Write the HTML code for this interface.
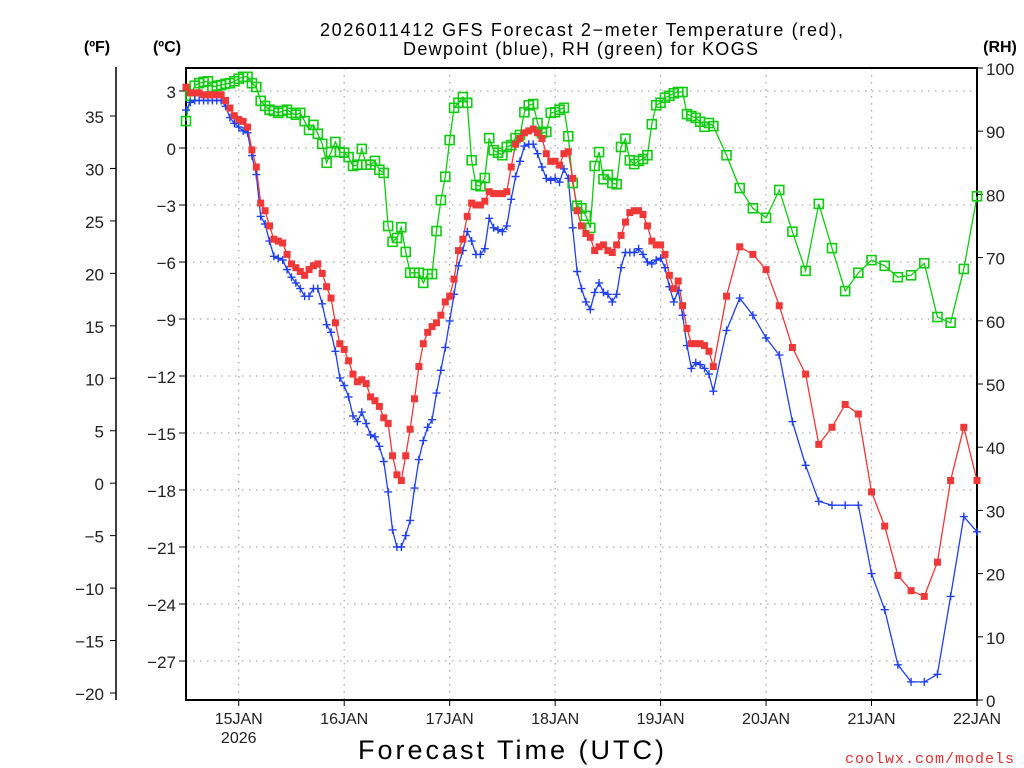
<!DOCTYPE html>
<html><head><meta charset="utf-8">
<style>
html,body{margin:0;padding:0;background:#fff;width:1024px;height:768px;overflow:hidden}
svg{display:block;font-family:"Liberation Sans",sans-serif}
</style></head>
<body>
<svg id="chart" width="1024" height="768" viewBox="0 0 1024 768">
<g>
<text x="320" y="36" font-size="18" fill="#000" textLength="523" lengthAdjust="spacing">2026011412 GFS Forecast 2−meter Temperature (red),</text>
<text x="403" y="55" font-size="18" fill="#000" textLength="355" lengthAdjust="spacing">Dewpoint (blue), RH (green) for KOGS</text>
</g>
<text x="97" y="52" text-anchor="middle" font-size="16" font-weight="bold">(ºF)</text>
<text x="167" y="52" text-anchor="middle" font-size="16" font-weight="bold">(ºC)</text>
<text x="1000" y="52" text-anchor="middle" font-size="16" font-weight="bold">(RH)</text>
<text x="358" y="759" font-size="27" textLength="306" lengthAdjust="spacing">Forecast Time (UTC)</text>
<text x="1015" y="763" text-anchor="end" font-size="15" fill="#e03030" letter-spacing="1" font-family="Liberation Mono, monospace">coolwx.com/models</text>
<g id="grid"></g>
<g id="axes"></g>
<g id="series"></g>
</svg>
<script>
// hours: hourly 0..120 then 3-hourly to 180
const hours = [];
for (let h = 0; h <= 120; h++) hours.push(h);
for (let h = 123; h <= 180; h += 3) hours.push(h);

const tempC = [3.2,2.9,2.9,2.9,2.8,2.8,2.8,2.8,2.8,2.5,2.1,1.7,1.5,1.4,1.1,-0.1,-1.0,-2.9,-3.3,-4.1,-4.8,-4.9,-5.0,-5.6,-6.1,-6.3,-6.5,-6.7,-6.4,-6.2,-6.1,-6.6,-7.3,-7.9,-9.2,-10.3,-10.6,-11.2,-11.9,-12.3,-12.2,-12.4,-13.1,-13.3,-13.6,-14.2,-14.5,-16.2,-17.2,-17.5,-16.2,-14.8,-13.2,-11.5,-10.3,-9.7,-9.4,-9.2,-8.8,-8.1,-7.8,-6.9,-5.4,-4.8,-3.6,-2.9,-3.0,-3.0,-2.8,-2.3,-2.4,-2.4,-2.4,-2.3,-1.0,0.2,0.5,0.8,0.9,1.0,0.8,0.5,-0.3,-0.7,-0.7,-0.9,-0.3,-0.2,-1.6,-3.3,-4.1,-4.5,-4.7,-5.4,-5.2,-5.1,-5.4,-5.5,-5.1,-4.6,-3.9,-3.4,-3.3,-3.3,-3.5,-4.1,-4.9,-5.1,-5.1,-5.6,-6.7,-7.4,-7.0,-8.3,-9.5,-10.3,-10.3,-10.3,-10.4,-10.7,-11.5,
-7.8,-5.2,-5.6,-6.4,-8.3,-10.5,-11.9,-15.6,-14.7,-13.5,-14.0,-18.1,-19.9,-22.5,-23.3,-23.6,-21.8,-17.5,-14.7,-17.5];

const dewC = [2.0,2.4,2.5,2.5,2.5,2.5,2.5,2.5,2.5,2.2,1.6,1.3,1.1,0.9,0.8,-0.4,-1.4,-3.6,-4.0,-4.9,-5.7,-5.8,-5.9,-6.4,-6.8,-7.1,-7.4,-7.8,-7.8,-7.4,-7.4,-8.2,-9.3,-9.7,-10.7,-12.1,-12.5,-13.1,-14.1,-14.4,-13.9,-14.5,-15.1,-15.2,-15.7,-16.5,-18.1,-20.1,-21.0,-21.0,-20.4,-19.6,-17.9,-16.4,-15.4,-14.7,-14.3,-12.9,-11.7,-10.5,-9.1,-7.7,-6.2,-5.4,-4.4,-4.9,-5.6,-5.6,-5.3,-3.7,-4.2,-4.3,-4.4,-4.1,-2.7,-1.5,-0.7,0.1,0.2,0.2,-0.3,-1.0,-1.6,-1.7,-1.6,-1.8,-1.1,-1.6,-4.2,-6.5,-7.4,-8.1,-8.5,-7.6,-7.1,-7.6,-7.7,-8.1,-7.7,-6.3,-5.5,-5.5,-5.5,-5.3,-5.6,-6.0,-6.1,-5.9,-5.8,-6.3,-7.3,-8.1,-7.5,-8.8,-10.4,-11.6,-11.3,-11.4,-11.6,-11.9,-12.8,
-9.6,-7.9,-8.8,-10.0,-10.9,-14.4,-16.7,-18.6,-18.8,-18.8,-18.8,-22.4,-24.3,-27.2,-28.1,-28.1,-27.7,-23.6,-19.4,-20.2];

const rhPct = [91.6,95.6,97.2,97.6,97.8,97.9,97.0,97.2,97.3,97.5,97.6,97.9,98.3,98.6,98.6,97.6,97.0,94.8,94.0,93.4,93.2,92.9,93.2,93.4,92.9,92.6,92.9,91.6,90.2,91.0,89.6,88.0,85.0,86.7,88.3,86.7,86.6,85.9,84.5,84.7,87.2,84.7,84.7,85.3,83.9,83.4,75.0,72.5,73.1,74.8,70.9,67.6,67.6,67.6,66.0,67.4,67.4,74.2,79.1,82.8,88.6,93.7,94.5,95.4,94.5,85.4,81.5,81.3,82.6,88.9,87.0,86.6,86.2,87.5,87.8,88.9,89.4,93.0,94.1,94.3,91.3,89.7,89.9,92.9,93.0,93.4,93.7,89.2,81.8,78.2,77.8,76.6,74.7,84.5,86.7,82.4,83.1,81.8,81.6,87.5,88.8,85.4,84.8,85.3,85.6,86.2,91.1,94.1,94.5,95.3,95.6,96.0,96.2,96.2,92.7,92.4,92.1,91.5,90.7,91.3,90.8,
86.2,81.0,77.8,76.3,80.7,74.1,67.9,78.5,71.5,64.7,67.6,69.6,68.7,66.9,67.2,69.1,60.6,59.7,68.2,79.7];

const cTicks = [3,0,-3,-6,-9,-12,-15,-18,-21,-24,-27];
const fTicks = [35,30,25,20,15,10,5,0,-5,-10,-15,-20];
const rhTicks = [100,90,80,70,60,50,40,30,20,10,0];
const dayLabels = ["15JAN","16JAN","17JAN","18JAN","19JAN","20JAN","21JAN","22JAN"];
const dayHours = [12,36,60,84,108,132,156,180];

const L=186,R=977,T=68,B=700;
const xS = h => L + (h/180)*(R-L);
const yC = c => 148 - 19*c;
const yF = f => 116 + (35-f)*(693-116)/55;
const yRH = r => B - r*(B-T)/100;
const NS="http://www.w3.org/2000/svg";
function mk(tag, attrs, parent){const e=document.createElementNS(NS,tag);for(const k in attrs)e.setAttribute(k,attrs[k]);parent.appendChild(e);return e;}
const grid=document.getElementById('grid'), axes=document.getElementById('axes'), ser=document.getElementById('series');

cTicks.forEach(c=>{const y=yC(c);
 const g=mk('line',{x1:L,x2:R,y1:y,y2:y,stroke:'#aaa','stroke-width':1.3,'stroke-dasharray':'1.5 5.5'},grid);
 
 
 const t=mk('line',{x1:L-7,x2:L,y1:y,y2:y,stroke:'#000','stroke-width':1},axes);
 
 
 const lb=mk('text',{x:L-10,y:y+7,'text-anchor':'end','font-size':17,fill:'#222'},axes);
 lb.textContent=(c<0?'−':'')+Math.abs(c);
 
 
});
dayHours.forEach((h,i)=>{const x=xS(h);
 if(i<dayHours.length-1){const g=mk('line',{x1:x,x2:x,y1:T,y2:B,stroke:'#aaa','stroke-width':1.3,'stroke-dasharray':'1.5 5.5'},grid);
 
 }
 const t=mk('line',{x1:x,x2:x,y1:B,y2:B+6,stroke:'#000','stroke-width':1},axes);
 
 
 const lb=mk('text',{x:x,y:B+24,'text-anchor':'middle','font-size':16,fill:'#222'},axes);
 lb.textContent=dayLabels[i];
 
 
});
const yr=mk('text',{x:xS(12),y:B+43,'text-anchor':'middle','font-size':16,fill:'#222'},axes);
yr.textContent='2026';



const fa=mk('line',{x1:116,x2:116,y1:67,y2:700,stroke:'#000','stroke-width':1.5},axes);


fTicks.forEach(f=>{const y=yF(f);
 const t=mk('line',{x1:110,x2:116,y1:y,y2:y,stroke:'#000','stroke-width':1},axes);
 
 
 const lb=mk('text',{x:104,y:y+7,'text-anchor':'end','font-size':17,fill:'#222'},axes);
 lb.textContent=(f<0?'−':'')+Math.abs(f);
 
 
});
rhTicks.forEach(r=>{const y=yRH(r);
 const t=mk('line',{x1:R,x2:R+6,y1:y,y2:y,stroke:'#000','stroke-width':1},axes);
 
 
 const lb=mk('text',{x:986,y:y+7,'text-anchor':'start','font-size':17,fill:'#222'},axes);
 lb.textContent=r;
 
 
});
const fr=mk('rect',{x:L,y:T,width:R-L,height:B-T,fill:'none',stroke:'#000','stroke-width':2},axes);



function line(vals, yf, color, name){
 const pts=vals.map((v,i)=>xS(hours[i]).toFixed(1)+','+yf(v).toFixed(1)).join(' ');
 const p=mk('polyline',{points:pts,fill:'none',stroke:color,'stroke-width':1.3},ser);
 
 
}
line(rhPct,yRH,'#10cc10','rh-line');
line(dewC,yC,'#2040f0','dewpoint-line');
line(tempC,yC,'#f03838','temperature-line');
rhPct.forEach((v,i)=>{const x=xS(hours[i]),y=yRH(v);
 const m=mk('rect',{x:x-4.5,y:y-4.5,width:9,height:9,fill:'none',stroke:'#10cc10','stroke-width':1.6},ser);
 
 
});
dewC.forEach((v,i)=>{const x=xS(hours[i]),y=yC(v);
 const m=mk('path',{d:`M${x-4},${y}H${x+4}M${x},${y-4}V${y+4}`,stroke:'#2040f0','stroke-width':1.4,fill:'none'},ser);
 
 
});
tempC.forEach((v,i)=>{const x=xS(hours[i]),y=yC(v);
 const m=mk('rect',{x:x-3.5,y:y-3.5,width:7,height:7,fill:'#f03838'},ser);
 
 
});
</script>
</body></html>
